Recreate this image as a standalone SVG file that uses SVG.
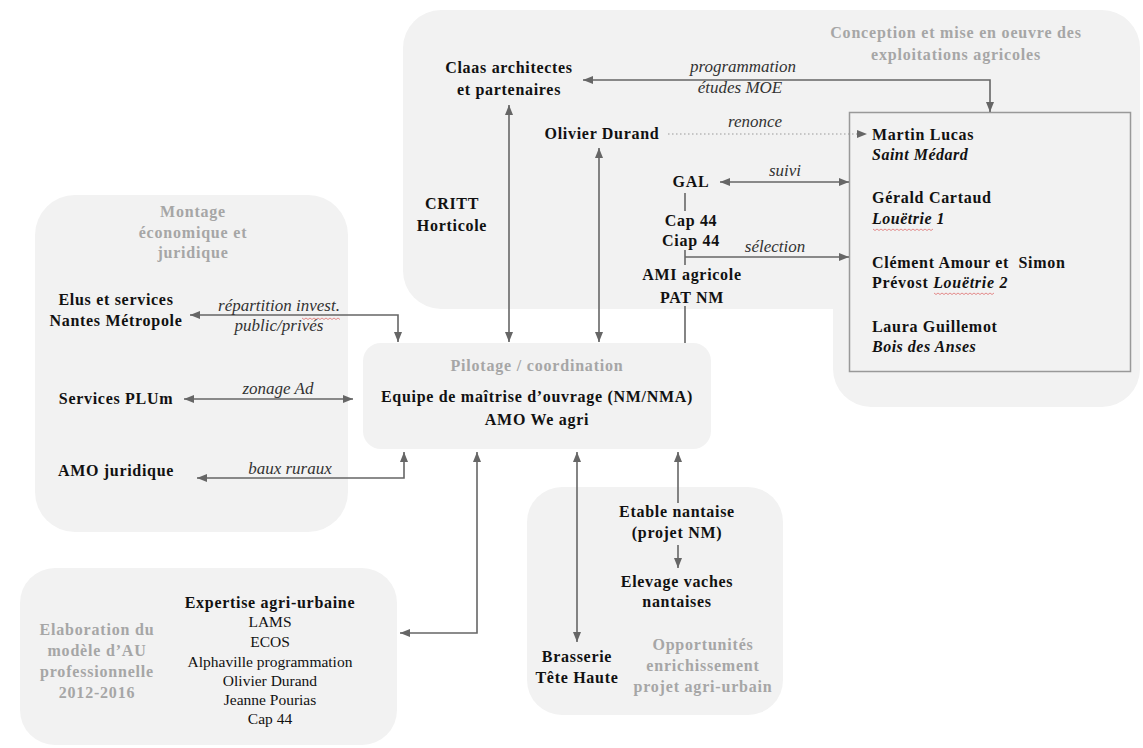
<svg xmlns="http://www.w3.org/2000/svg" width="1143" height="748" viewBox="0 0 1143 748">
<style>
.reg{fill:#f2f2f2;stroke:none}
text{font-family:"Liberation Serif","Times New Roman",serif}
.b{font-weight:bold;font-size:16px;fill:#111;letter-spacing:0.7px}
.bi{font-weight:bold;font-style:italic;font-size:16px;fill:#111;letter-spacing:0.5px}
.g{font-weight:bold;font-size:16px;fill:#a6a6a6;letter-spacing:0.8px}
.r{font-size:15.5px;fill:#111}
.i{font-style:italic;font-size:17px;fill:#333}
.m{text-anchor:middle}
.c{fill:none;stroke:#666;stroke-width:1.6}
.d{fill:none;stroke:#999;stroke-width:1.2;stroke-dasharray:1.5 2.5}
.w{fill:none;stroke:#e07070;stroke-width:0.8}
</style>
<defs>
<marker id="a" viewBox="0 0 10 8" refX="10" refY="4" markerWidth="10" markerHeight="8" markerUnits="userSpaceOnUse" orient="auto-start-reverse">
<path d="M0,0 L10,4 L0,8 z" fill="#666"/>
</marker>
</defs>
<rect width="1143" height="748" fill="#ffffff"/>

<g id="region-conception">
<rect class="reg" x="403" y="10" width="737" height="299" rx="38"/>
<rect class="reg" x="833" y="200" width="307" height="207" rx="38"/>
<text class="g m" x="956" y="38">Conception et mise en oeuvre des</text>
<text class="g m" x="956" y="60">exploitations agricoles</text>
</g>
<g id="region-montage">
<rect class="reg" x="35" y="195" width="313" height="337" rx="40"/>
<text class="g m" x="193" y="217">Montage</text>
<text class="g m" x="193" y="238">économique et</text>
<text class="g m" x="193" y="258">juridique</text>
</g>
<g id="region-elaboration">
<rect class="reg" x="20" y="568" width="377" height="177" rx="35"/>
<text class="g m" x="97" y="635">Elaboration du</text>
<text class="g m" x="97" y="656">modèle d’AU</text>
<text class="g m" x="97" y="677">professionnelle</text>
<text class="g m" x="97" y="698">2012-2016</text>
</g>
<g id="region-opportunites">
<rect class="reg" x="527" y="487" width="256" height="228" rx="35"/>
<text class="g m" x="703" y="650">Opportunités</text>
<text class="g m" x="703" y="671">enrichissement</text>
<text class="g m" x="703" y="692">projet agri-urbain</text>
</g>

<g id="pilotage">
<rect class="reg" x="363" y="343" width="348" height="106" rx="18"/>
<text class="g m" x="537" y="371">Pilotage / coordination</text>
<text class="b m" x="537" y="402">Equipe de maîtrise d’ouvrage (NM/NMA)</text>
<text class="b m" x="537" y="425">AMO We agri</text>
</g>

<g id="exploitations">
<rect x="849.5" y="112.5" width="281" height="259" fill="#f2f2f2" stroke="#999" stroke-width="1.5"/>
<text class="b" x="872" y="140">Martin Lucas</text>
<text class="bi" x="872" y="160">Saint Médard</text>
<text class="b" x="872" y="203">Gérald Cartaud</text>
<text class="bi" x="872" y="224">Louëtrie 1</text>
<text class="b" x="872" y="268" xml:space="preserve">Clément Amour et  Simon</text>
<text class="b" x="872" y="288">Prévost <tspan font-style="italic">Louëtrie 2</tspan></text>
<text class="b" x="872" y="332">Laura Guillemot</text>
<text class="bi" x="872" y="352">Bois des Anses</text>
<path class="w" d="M873,229 l2,1.5 l2,-1.5 l2,1.5 l2,-1.5 l2,1.5 l2,-1.5 l2,1.5 l2,-1.5 l2,1.5 l2,-1.5 l2,1.5 l2,-1.5 l2,1.5 l2,-1.5 l2,1.5 l2,-1.5 l2,1.5 l2,-1.5 l2,1.5 l2,-1.5 l2,1.5 l2,-1.5 l2,1.5 l2,-1.5 l2,1.5 l2,-1.5 l2,1.5 l2,-1.5 l2,1.5 l2,-1.5"/>
<path class="w" d="M934,293 l2,1.5 l2,-1.5 l2,1.5 l2,-1.5 l2,1.5 l2,-1.5 l2,1.5 l2,-1.5 l2,1.5 l2,-1.5 l2,1.5 l2,-1.5 l2,1.5 l2,-1.5 l2,1.5 l2,-1.5 l2,1.5 l2,-1.5 l2,1.5 l2,-1.5 l2,1.5 l2,-1.5 l2,1.5 l2,-1.5 l2,1.5 l2,-1.5 l2,1.5 l2,-1.5 l2,1.5 l2,-1.5"/>
</g>

<g id="claas"><text class="b m" x="509" y="73">Claas architectes</text><text class="b m" x="509" y="95">et partenaires</text></g>
<g id="olivier"><text class="b m" x="602" y="139">Olivier Durand</text></g>
<g id="critt"><text class="b m" x="452" y="209">CRITT</text><text class="b m" x="452" y="231">Horticole</text></g>
<g id="gal"><text class="b m" x="691" y="187">GAL</text></g>
<g id="cap"><text class="b m" x="691" y="226">Cap 44</text><text class="b m" x="691" y="246">Ciap 44</text></g>
<g id="ami"><text class="b m" x="692" y="280">AMI agricole</text><text class="b m" x="692" y="303">PAT NM</text></g>

<g id="elus"><text class="b m" x="116" y="305">Elus et services</text><text class="b m" x="116" y="326">Nantes Métropole</text></g>
<g id="plum"><text class="b m" x="116" y="404">Services PLUm</text></g>
<g id="amojur"><text class="b m" x="116" y="476">AMO juridique</text></g>

<g id="expertise">
<text class="b m" x="270" y="608">Expertise agri-urbaine</text>
<text class="r m" x="270" y="627">LAMS</text>
<text class="r m" x="270" y="647">ECOS</text>
<text class="r m" x="270" y="667">Alphaville programmation</text>
<text class="r m" x="270" y="686">Olivier Durand</text>
<text class="r m" x="270" y="705">Jeanne Pourias</text>
<text class="r m" x="270" y="724">Cap 44</text>
</g>
<g id="etable"><text class="b m" x="677" y="517">Etable nantaise</text><text class="b m" x="677" y="538">(projet NM)</text></g>
<g id="elevage"><text class="b m" x="677" y="587">Elevage vaches</text><text class="b m" x="677" y="607">nantaises</text></g>
<g id="brasserie"><text class="b m" x="577" y="662">Brasserie</text><text class="b m" x="577" y="683">Tête Haute</text></g>

<g id="connectors">
<path class="c" d="M583,80 H990 V112" marker-start="url(#a)" marker-end="url(#a)"/>
<path class="c" d="M509,105 V342" marker-start="url(#a)" marker-end="url(#a)"/>
<path class="c" d="M599,148 V342" marker-start="url(#a)" marker-end="url(#a)"/>
<path class="d" d="M668,134 H857"/>
<path d="M857,130 L867,134 L857,138 z" fill="#666"/>
<path class="c" d="M720,182 H849" marker-start="url(#a)" marker-end="url(#a)"/>
<path class="c" d="M685,193 V211"/>
<path class="c" d="M685,250 V265"/>
<path class="c" d="M685,257 H849" marker-end="url(#a)"/>
<path class="c" d="M685,306 V343"/>
<path class="c" d="M190,315 H398 V342" marker-start="url(#a)" marker-end="url(#a)"/>
<path class="c" d="M184,399 H353" marker-start="url(#a)" marker-end="url(#a)"/>
<path class="c" d="M197,478 H404 V452" marker-start="url(#a)" marker-end="url(#a)"/>
<path class="c" d="M400,633 H477 V452" marker-start="url(#a)" marker-end="url(#a)"/>
<path class="c" d="M577,452 V642" marker-start="url(#a)" marker-end="url(#a)"/>
<path class="c" d="M678,503 V452" marker-end="url(#a)"/>
<path class="c" d="M678,545 V568" marker-end="url(#a)"/>
<text class="i m" x="743" y="72">programmation</text>
<text class="i m" x="740" y="93">études MOE</text>
<text class="i m" x="755" y="127">renonce</text>
<text class="i m" x="785" y="176">suivi</text>
<text class="i m" x="775" y="252">sélection</text>
<text class="i m" x="279" y="311">répartition invest.</text>
<text class="i m" x="279" y="331">public/privés</text>
<text class="i m" x="278" y="394">zonage Ad</text>
<text class="i m" x="290" y="474">baux ruraux</text>
<path class="w" d="M302,318 l2,1.5 l2,-1.5 l2,1.5 l2,-1.5 l2,1.5 l2,-1.5 l2,1.5 l2,-1.5 l2,1.5 l2,-1.5 l2,1.5 l2,-1.5 l2,1.5 l2,-1.5 l2,1.5 l2,-1.5 l2,1.5 l2,-1.5 l2,1.5"/>
</g>
</svg>
